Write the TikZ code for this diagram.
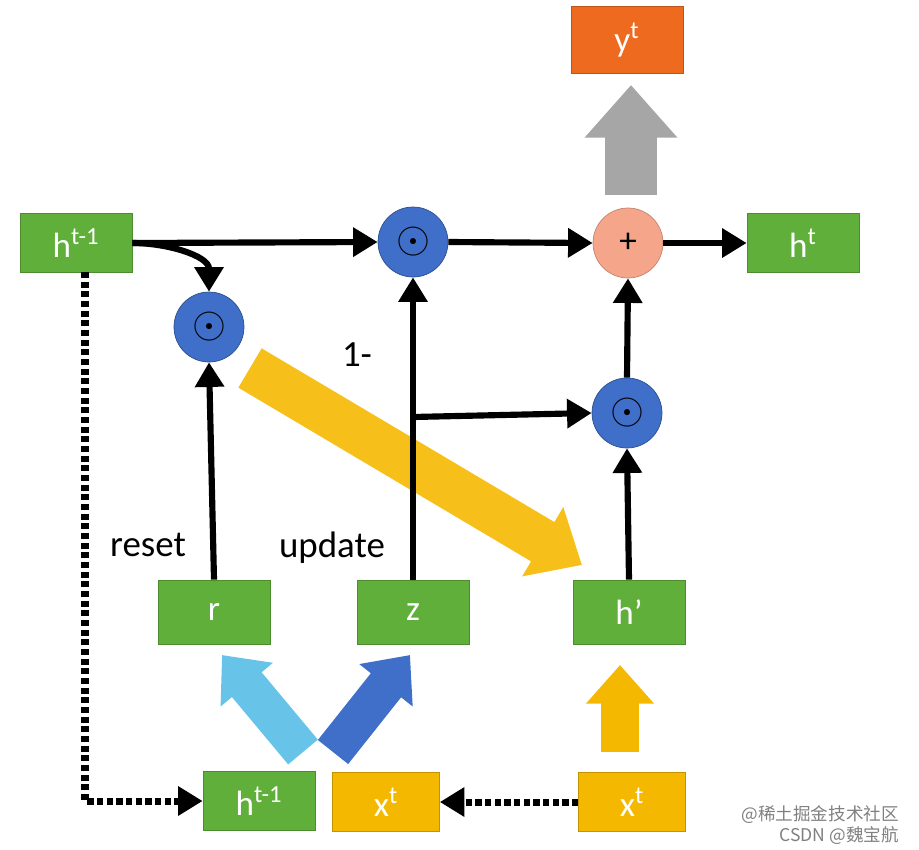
\documentclass[tikz,border=0pt]{standalone}
\usepackage{fontspec}
\setmainfont{Carlito}
\newfontfamily\cjk{Noto Sans CJK SC}
\usetikzlibrary{arrows.meta}
\definecolor{gr}{HTML}{5FAF3A}
\definecolor{yl}{HTML}{F5B800}
\definecolor{og}{HTML}{EE6A1E}
\definecolor{bl}{HTML}{3F6FC8}
\definecolor{pk}{HTML}{F4A58A}
\begin{document}
\begin{tikzpicture}[x=0.02cm,y=-0.02cm,
 box/.style={fill=#1,draw=#1!80!black,minimum width=2.24cm,minimum height=1.18cm,text=white,font=\fontsize{20}{22}\selectfont,inner sep=0},
 dot/.style={circle,fill=bl,draw=bl!70!black,minimum size=1.4cm,inner sep=0,font=\fontsize{34}{34}\selectfont},
 ar/.style={line width=3.5pt,-{Triangle[length=14pt,width=16pt]}},
 fat/.style={line width=#1,-{Triangle[length=1.0*#1,width=1.7*#1]}},
 lbl/.style={font=\fontsize{21}{24}\selectfont}]
\useasboundingbox (0,0) rectangle (919,849);
\node[box=gr] (hl) at (76,243) {h\textsuperscript{t-1}};
\node[box=gr] (ht) at (803,243) {h\textsuperscript{t}};
\node[box=og,minimum height=1.34cm] (yt) at (627,40) {y\textsuperscript{t}};
\node[dot] (m1) at (413,242) {$\odot$};
\node[circle,fill=pk,draw=pk!80!black,minimum size=1.4cm,inner sep=0,font=\fontsize{20}{20}\selectfont] (pl) at (628,243) {+};
\node[dot] (m2) at (209,327) {$\odot$};
\node[dot] (m3) at (627,413) {$\odot$};
\node[box=gr,minimum height=1.28cm] (r) at (214,612) {r};
\node[box=gr,minimum height=1.28cm] (z) at (413,612) {z};
\node[box=gr,minimum height=1.28cm] (hp) at (629,612) {h'};
\node[box=gr] (hb) at (259,801) {h\textsuperscript{t-1}};
\node[box=yl,minimum width=2.14cm] (xm) at (386,802) {x\textsuperscript{t}};
\node[box=yl,minimum width=2.14cm] (xr) at (632,802) {x\textsuperscript{t}};
\node[lbl] (one) at (357,355) {1-};
\node[lbl] (rs) at (148,545) {reset};
\node[lbl] (up) at (332,548) {update};
\coordinate (zb) at (413,417);
% colored fat arrows
\draw[fat=30pt,gray!70] (631,195) -- (631,85);
\draw[fat=26pt,yl!90] (250,368) -- (582,565);
\draw[fat=22pt,yl] (620,752) -- (620,665);
\draw[fat=22pt,bl!60!cyan!70] (303,752) -- (222,655);
\draw[fat=22pt,bl] (333,752) -- (410,655);
% black arrows
\draw[ar] (hl.east) -- (m1.west);
\draw[ar] (hl.east) to[out=0,in=90] (m2.north);
\draw[ar] (r.north) -- (m2.south);
\draw[ar] (z.north) -- (m1.south);
\draw[ar] (zb) -- (m3.west);
\draw[ar] (hp.north) -- (m3.south);
\draw[ar] (m3.north) -- (pl.south);
\draw[ar] (m1.east) -- (pl.west);
\draw[ar] (pl.east) -- (ht.west);
\draw[ar,dotted,line width=4pt] (85,272) -- (85,801) -- (hb.west);
\draw[ar,dotted,line width=4pt] (xr.west) -- (xm.east);
\node[text=gray,font=\cjk\fontsize{10}{12}\selectfont,anchor=east] (w1) at (905,815) {@稀土掘金技术社区};
\node[text=gray,font=\cjk\fontsize{10}{12}\selectfont,anchor=east] (w2) at (905,836) {CSDN @魏宝航};
\end{tikzpicture}
\end{document}
